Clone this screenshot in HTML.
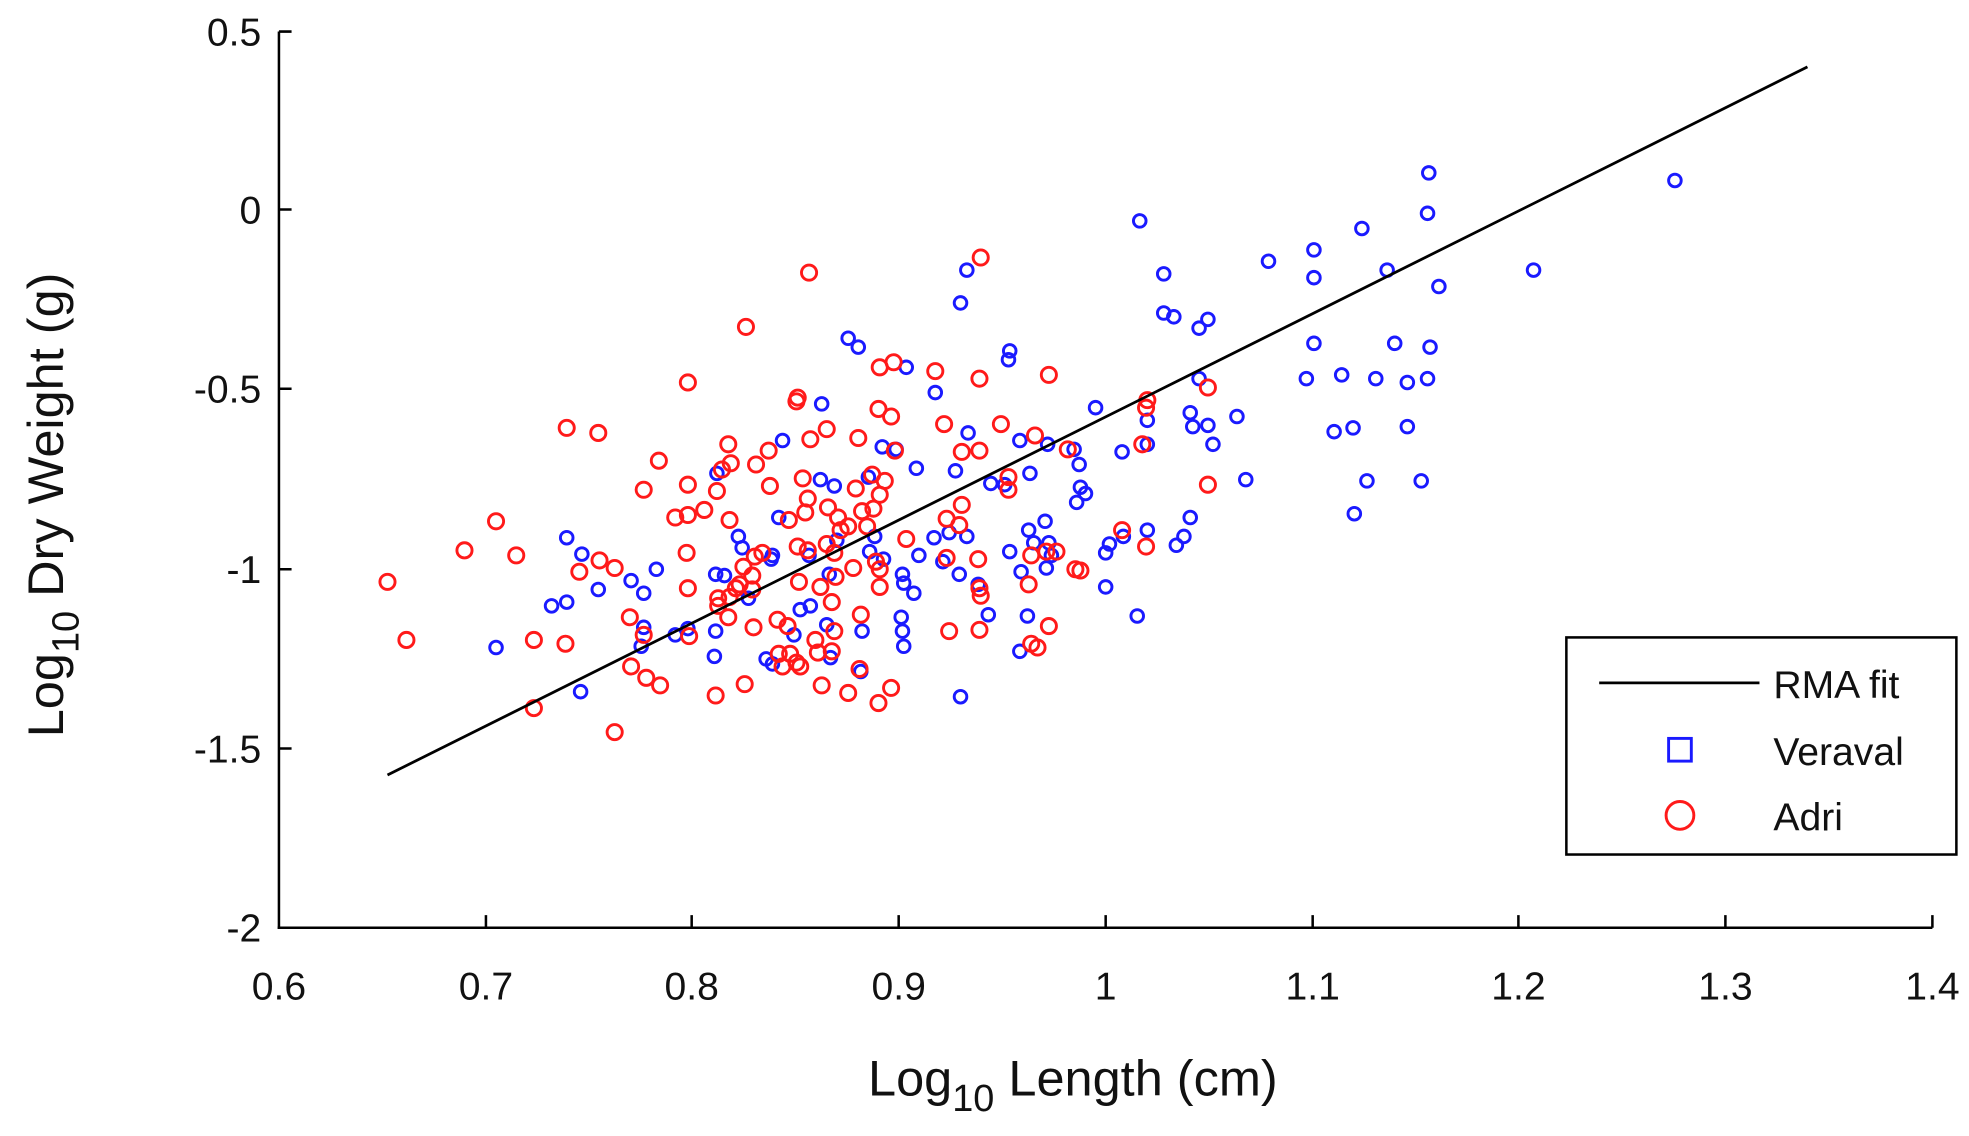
<!DOCTYPE html>
<html><head><meta charset="utf-8"><style>html,body{margin:0;padding:0;background:#fff}svg{display:block}</style></head>
<body>
<svg width="1969" height="1136" viewBox="0 0 1560 900" preserveAspectRatio="none" xmlns="http://www.w3.org/2000/svg" font-family="Liberation Sans, sans-serif">
<rect width="1560" height="900" fill="#fff"/>
<g stroke="#000" stroke-width="2" fill="none">
<line x1="221" y1="25" x2="221" y2="736"/>
<line x1="220" y1="735" x2="1531" y2="735"/>
<path d="M221 25h10M221 166h10M221 308h10M221 451h10M221 593h10M221 735h10"/>
<path d="M385 735v-10M548 735v-10M712 735v-10M876 735v-10M1040 735v-10M1203 735v-10M1367 735v-10M1531 735v-10"/>
</g>
<g font-size="31" fill="#111" text-anchor="end">
<text x="207" y="36">0.5</text><text x="207" y="177">0</text><text x="207" y="319">-0.5</text><text x="207" y="462">-1</text><text x="207" y="604">-1.5</text><text x="207" y="746">-2</text>
</g>
<g font-size="31" fill="#111" text-anchor="middle">
<text x="221" y="792">0.6</text><text x="385" y="792">0.7</text><text x="548" y="792">0.8</text><text x="712" y="792">0.9</text><text x="876" y="792">1</text><text x="1040" y="792">1.1</text><text x="1203" y="792">1.2</text><text x="1367" y="792">1.3</text><text x="1531" y="792">1.4</text>
</g>
<text x="850" y="868" font-size="40" fill="#111" text-anchor="middle">Log<tspan font-size="30" dy="12">10</tspan><tspan dy="-12"> Length (cm)</tspan></text>
<text transform="translate(50 400) rotate(-90)" font-size="40" fill="#111" text-anchor="middle">Log<tspan font-size="30" dy="12">10</tspan><tspan dy="-12"> Dry Weight (g)</tspan></text>
<g fill="none" stroke="#1a1aff" stroke-width="2.3">
<circle cx="1132" cy="137" r="5"/><circle cx="1327" cy="143" r="5"/><circle cx="1131" cy="169" r="5"/><circle cx="903" cy="175" r="5"/><circle cx="1005" cy="207" r="5"/><circle cx="1041" cy="198" r="5"/><circle cx="1079" cy="181" r="5"/><circle cx="1041" cy="220" r="5"/><circle cx="1099" cy="214" r="5"/><circle cx="1215" cy="214" r="5"/><circle cx="922" cy="217" r="5"/><circle cx="1140" cy="227" r="5"/><circle cx="766" cy="214" r="5"/><circle cx="761" cy="240" r="5"/><circle cx="922" cy="248" r="5"/><circle cx="930" cy="251" r="5"/><circle cx="957" cy="253" r="5"/><circle cx="950" cy="260" r="5"/><circle cx="1041" cy="272" r="5"/><circle cx="1105" cy="272" r="5"/><circle cx="1133" cy="275" r="5"/><circle cx="672" cy="268" r="5"/><circle cx="680" cy="275" r="5"/><circle cx="800" cy="278" r="5"/><circle cx="799" cy="285" r="5"/><circle cx="718" cy="291" r="5"/><circle cx="1035" cy="300" r="5"/><circle cx="1063" cy="297" r="5"/><circle cx="1090" cy="300" r="5"/><circle cx="1115" cy="303" r="5"/><circle cx="1131" cy="300" r="5"/><circle cx="950" cy="300" r="5"/><circle cx="741" cy="311" r="5"/><circle cx="651" cy="320" r="5"/><circle cx="868" cy="323" r="5"/><circle cx="1115" cy="338" r="5"/><circle cx="1057" cy="342" r="5"/><circle cx="1072" cy="339" r="5"/><circle cx="909" cy="333" r="5"/><circle cx="943" cy="327" r="5"/><circle cx="945" cy="338" r="5"/><circle cx="980" cy="330" r="5"/><circle cx="957" cy="337" r="5"/><circle cx="961" cy="352" r="5"/><circle cx="909" cy="352" r="5"/><circle cx="767" cy="343" r="5"/><circle cx="808" cy="349" r="5"/><circle cx="620" cy="349" r="5"/><circle cx="699" cy="354" r="5"/><circle cx="710" cy="356" r="5"/><circle cx="830" cy="352" r="5"/><circle cx="851" cy="356" r="5"/><circle cx="889" cy="358" r="5"/><circle cx="855" cy="368" r="5"/><circle cx="816" cy="375" r="5"/><circle cx="757" cy="373" r="5"/><circle cx="726" cy="371" r="5"/><circle cx="688" cy="378" r="5"/><circle cx="650" cy="380" r="5"/><circle cx="661" cy="385" r="5"/><circle cx="568" cy="375" r="5"/><circle cx="785" cy="383" r="5"/><circle cx="796" cy="384" r="5"/><circle cx="987" cy="380" r="5"/><circle cx="1083" cy="381" r="5"/><circle cx="1126" cy="381" r="5"/><circle cx="1073" cy="407" r="5"/><circle cx="856" cy="386" r="5"/><circle cx="860" cy="391" r="5"/><circle cx="853" cy="398" r="5"/><circle cx="943" cy="410" r="5"/><circle cx="938" cy="425" r="5"/><circle cx="932" cy="432" r="5"/><circle cx="909" cy="420" r="5"/><circle cx="890" cy="425" r="5"/><circle cx="828" cy="413" r="5"/><circle cx="815" cy="420" r="5"/><circle cx="819" cy="430" r="5"/><circle cx="766" cy="425" r="5"/><circle cx="752" cy="422" r="5"/><circle cx="740" cy="426" r="5"/><circle cx="728" cy="440" r="5"/><circle cx="747" cy="445" r="5"/><circle cx="693" cy="425" r="5"/><circle cx="689" cy="437" r="5"/><circle cx="663" cy="428" r="5"/><circle cx="617" cy="410" r="5"/><circle cx="612" cy="440" r="5"/><circle cx="585" cy="425" r="5"/><circle cx="588" cy="434" r="5"/><circle cx="449" cy="426" r="5"/><circle cx="461" cy="439" r="5"/><circle cx="574" cy="456" r="5"/><circle cx="593" cy="474" r="5"/><circle cx="611" cy="443" r="5"/><circle cx="641" cy="440" r="5"/><circle cx="657" cy="455" r="5"/><circle cx="700" cy="443" r="5"/><circle cx="715" cy="455" r="5"/><circle cx="716" cy="462" r="5"/><circle cx="724" cy="470" r="5"/><circle cx="760" cy="455" r="5"/><circle cx="775" cy="463" r="5"/><circle cx="800" cy="437" r="5"/><circle cx="809" cy="453" r="5"/><circle cx="829" cy="450" r="5"/><circle cx="876" cy="465" r="5"/><circle cx="879" cy="431" r="5"/><circle cx="833" cy="440" r="5"/><circle cx="831" cy="430" r="5"/><circle cx="474" cy="467" r="5"/><circle cx="437" cy="480" r="5"/><circle cx="449" cy="477" r="5"/><circle cx="520" cy="451" r="5"/><circle cx="500" cy="460" r="5"/><circle cx="510" cy="470" r="5"/><circle cx="567" cy="455" r="5"/><circle cx="545" cy="498" r="5"/><circle cx="535" cy="503" r="5"/><circle cx="567" cy="500" r="5"/><circle cx="566" cy="520" r="5"/><circle cx="510" cy="497" r="5"/><circle cx="508" cy="512" r="5"/><circle cx="393" cy="513" r="5"/><circle cx="460" cy="548" r="5"/><circle cx="607" cy="522" r="5"/><circle cx="612" cy="526" r="5"/><circle cx="629" cy="503" r="5"/><circle cx="642" cy="480" r="5"/><circle cx="634" cy="483" r="5"/><circle cx="655" cy="495" r="5"/><circle cx="658" cy="521" r="5"/><circle cx="683" cy="500" r="5"/><circle cx="682" cy="532" r="5"/><circle cx="714" cy="489" r="5"/><circle cx="715" cy="500" r="5"/><circle cx="716" cy="512" r="5"/><circle cx="761" cy="552" r="5"/><circle cx="808" cy="516" r="5"/><circle cx="814" cy="488" r="5"/><circle cx="783" cy="487" r="5"/><circle cx="901" cy="488" r="5"/><circle cx="876" cy="438" r="5"/>
</g>
<g fill="none" stroke="#ff1a1a" stroke-width="2.3">
<circle cx="777" cy="204" r="6"/><circle cx="641" cy="216" r="6"/><circle cx="591" cy="259" r="6"/><circle cx="545" cy="303" r="6"/><circle cx="449" cy="339" r="6"/><circle cx="474" cy="343" r="6"/><circle cx="632" cy="315" r="6"/><circle cx="631" cy="318" r="6"/><circle cx="697" cy="291" r="6"/><circle cx="708" cy="287" r="6"/><circle cx="741" cy="294" r="6"/><circle cx="776" cy="300" r="6"/><circle cx="831" cy="297" r="6"/><circle cx="957" cy="307" r="6"/><circle cx="909" cy="317" r="6"/><circle cx="908" cy="323" r="6"/><circle cx="696" cy="324" r="6"/><circle cx="706" cy="330" r="6"/><circle cx="793" cy="336" r="6"/><circle cx="905" cy="352" r="6"/><circle cx="642" cy="348" r="6"/><circle cx="577" cy="352" r="6"/><circle cx="522" cy="365" r="6"/><circle cx="609" cy="357" r="6"/><circle cx="579" cy="367" r="6"/><circle cx="748" cy="336" r="6"/><circle cx="776" cy="357" r="6"/><circle cx="762" cy="358" r="6"/><circle cx="820" cy="345" r="6"/><circle cx="846" cy="356" r="6"/><circle cx="655" cy="340" r="6"/><circle cx="680" cy="347" r="6"/><circle cx="709" cy="357" r="6"/><circle cx="599" cy="368" r="6"/><circle cx="572" cy="372" r="6"/><circle cx="510" cy="388" r="6"/><circle cx="545" cy="384" r="6"/><circle cx="568" cy="389" r="6"/><circle cx="610" cy="385" r="6"/><circle cx="636" cy="379" r="6"/><circle cx="545" cy="408" r="6"/><circle cx="535" cy="410" r="6"/><circle cx="558" cy="404" r="6"/><circle cx="578" cy="412" r="6"/><circle cx="691" cy="376" r="6"/><circle cx="701" cy="381" r="6"/><circle cx="678" cy="387" r="6"/><circle cx="697" cy="392" r="6"/><circle cx="625" cy="412" r="6"/><circle cx="638" cy="406" r="6"/><circle cx="640" cy="395" r="6"/><circle cx="656" cy="402" r="6"/><circle cx="683" cy="405" r="6"/><circle cx="692" cy="403" r="6"/><circle cx="799" cy="378" r="6"/><circle cx="799" cy="388" r="6"/><circle cx="762" cy="400" r="6"/><circle cx="750" cy="411" r="6"/><circle cx="760" cy="416" r="6"/><circle cx="718" cy="427" r="6"/><circle cx="687" cy="417" r="6"/><circle cx="672" cy="417" r="6"/><circle cx="664" cy="410" r="6"/><circle cx="666" cy="420" r="6"/><circle cx="598" cy="441" r="6"/><circle cx="604" cy="438" r="6"/><circle cx="589" cy="449" r="6"/><circle cx="596" cy="456" r="6"/><circle cx="586" cy="463" r="6"/><circle cx="596" cy="467" r="6"/><circle cx="578" cy="473" r="6"/><circle cx="569" cy="480" r="6"/><circle cx="569" cy="474" r="6"/><circle cx="583" cy="466" r="6"/><circle cx="632" cy="433" r="6"/><circle cx="640" cy="436" r="6"/><circle cx="655" cy="431" r="6"/><circle cx="661" cy="438" r="6"/><circle cx="694" cy="445" r="6"/><circle cx="697" cy="451" r="6"/><circle cx="697" cy="465" r="6"/><circle cx="633" cy="461" r="6"/><circle cx="650" cy="465" r="6"/><circle cx="662" cy="457" r="6"/><circle cx="676" cy="450" r="6"/><circle cx="750" cy="442" r="6"/><circle cx="775" cy="443" r="6"/><circle cx="776" cy="466" r="6"/><circle cx="777" cy="472" r="6"/><circle cx="817" cy="440" r="6"/><circle cx="829" cy="437" r="6"/><circle cx="837" cy="437" r="6"/><circle cx="852" cy="451" r="6"/><circle cx="815" cy="463" r="6"/><circle cx="393" cy="413" r="6"/><circle cx="368" cy="436" r="6"/><circle cx="409" cy="440" r="6"/><circle cx="459" cy="453" r="6"/><circle cx="475" cy="444" r="6"/><circle cx="487" cy="450" r="6"/><circle cx="544" cy="438" r="6"/><circle cx="545" cy="466" r="6"/><circle cx="307" cy="461" r="6"/><circle cx="322" cy="507" r="6"/><circle cx="423" cy="507" r="6"/><circle cx="448" cy="510" r="6"/><circle cx="499" cy="489" r="6"/><circle cx="510" cy="503" r="6"/><circle cx="546" cy="504" r="6"/><circle cx="577" cy="489" r="6"/><circle cx="597" cy="497" r="6"/><circle cx="616" cy="491" r="6"/><circle cx="624" cy="496" r="6"/><circle cx="659" cy="477" r="6"/><circle cx="682" cy="487" r="6"/><circle cx="661" cy="500" r="6"/><circle cx="626" cy="518" r="6"/><circle cx="631" cy="525" r="6"/><circle cx="646" cy="507" r="6"/><circle cx="648" cy="517" r="6"/><circle cx="659" cy="516" r="6"/><circle cx="617" cy="518" r="6"/><circle cx="620" cy="528" r="6"/><circle cx="634" cy="528" r="6"/><circle cx="651" cy="543" r="6"/><circle cx="672" cy="549" r="6"/><circle cx="696" cy="557" r="6"/><circle cx="706" cy="545" r="6"/><circle cx="567" cy="551" r="6"/><circle cx="590" cy="542" r="6"/><circle cx="523" cy="543" r="6"/><circle cx="512" cy="537" r="6"/><circle cx="500" cy="528" r="6"/><circle cx="423" cy="561" r="6"/><circle cx="487" cy="580" r="6"/><circle cx="752" cy="500" r="6"/><circle cx="776" cy="499" r="6"/><circle cx="831" cy="496" r="6"/><circle cx="822" cy="513" r="6"/><circle cx="817" cy="510" r="6"/><circle cx="889" cy="420" r="6"/><circle cx="908" cy="433" r="6"/><circle cx="957" cy="384" r="6"/><circle cx="856" cy="452" r="6"/><circle cx="681" cy="530" r="6"/>
</g>
<line x1="307" y1="614" x2="1432" y2="53" stroke="#000" stroke-width="2.2"/>
<rect x="1241" y="505" width="309" height="172" fill="#fff" stroke="#000" stroke-width="2"/>
<line x1="1267" y1="541" x2="1394" y2="541" stroke="#000" stroke-width="2.2"/>
<rect x="1322" y="585" width="18" height="18" fill="none" stroke="#1a1aff" stroke-width="2.3"/>
<circle cx="1331" cy="646" r="11" fill="none" stroke="#ff1a1a" stroke-width="2.3"/>
<g font-size="31" fill="#111">
<text x="1405" y="553">RMA fit</text>
<text x="1405" y="606">Veraval</text>
<text x="1405" y="658">Adri</text>
</g>
</svg>
</body></html>
